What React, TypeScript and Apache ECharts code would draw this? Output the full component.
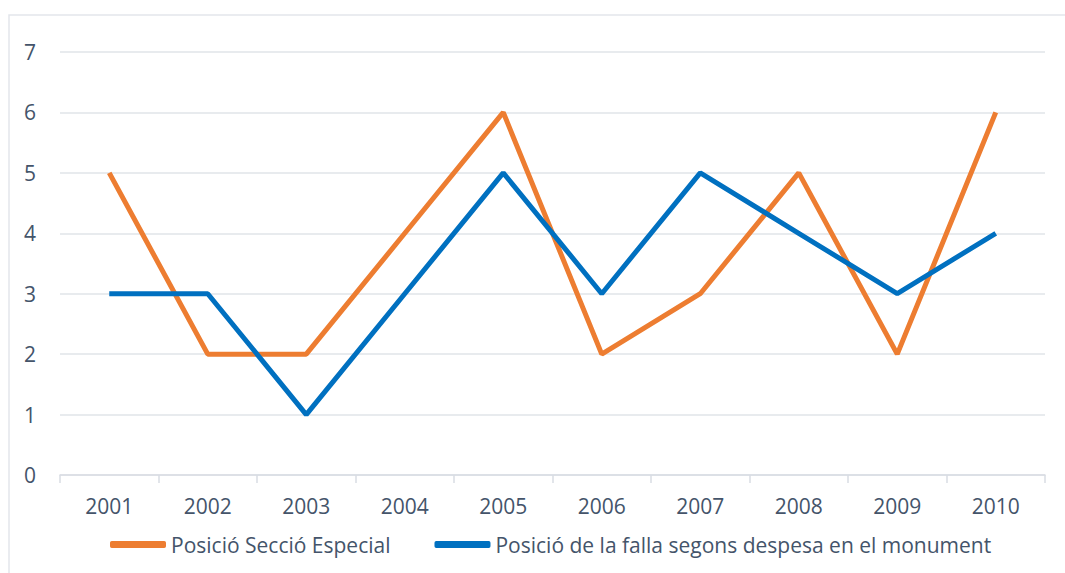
import React, { useEffect, useRef } from "react";
import * as echarts from "echarts";

const years = ["2001", "2002", "2003", "2004", "2005", "2006", "2007", "2008", "2009", "2010"];
const seccioEspecial = [5, 2, 2, 4, 6, 2, 3, 5, 2, 6];
const despesaMonument = [3, 3, 1, 3, 5, 3, 5, 4, 3, 4];
const seriesNames = ["Posició Secció Especial", "Posició de la falla segons despesa en el monument"];

const textColor = "#44546A";
const font = "'Open Sans', sans-serif";

export default function App() {
  const ref = useRef<HTMLDivElement>(null);
  useEffect(() => {
    if (!ref.current) return;
    const chart = echarts.init(ref.current, undefined, { renderer: "svg" });
    chart.setOption({
      animation: false,
      backgroundColor: "#ffffff",
      graphic: [
        {
          type: "rect",
          shape: { x: 9, y: 15, width: 1200, height: 700 },
          style: { fill: "none", stroke: "#E3E6EB", lineWidth: 1.5 },
          silent: true,
          z: -1,
        },
      ],
      grid: { left: 60, right: 20, top: 52, bottom: 98, containLabel: false },
      xAxis: {
        type: "category",
        data: years,
        boundaryGap: true,
        axisLine: { lineStyle: { color: "#D9DDE3", width: 1.5 } },
        axisTick: { show: true, length: 8, lineStyle: { color: "#D9DDE3", width: 1.5 } },
        axisLabel: { color: textColor, fontSize: 21, fontFamily: font, margin: 20 },
      },
      yAxis: {
        type: "value",
        min: 0,
        max: 7,
        interval: 1,
        axisLine: { show: false },
        axisTick: { show: false },
        axisLabel: { color: textColor, fontSize: 21, fontFamily: font, margin: 24 },
        splitLine: { lineStyle: { color: "#E1E4E9", width: 1.5 } },
      },
      legend: {
        left: 110,
        top: 534,
        padding: 0,
        itemGap: 44,
        itemWidth: 56,
        itemHeight: 7,
        icon: "roundRect",
        textStyle: { color: textColor, fontSize: 21, fontFamily: font },
        data: seriesNames,
      },
      series: [
        {
          name: seriesNames[0],
          type: "line",
          data: seccioEspecial,
          symbol: "none",
          color: "#ED7D31",
          lineStyle: { width: 5, color: "#ED7D31" },
        },
        {
          name: seriesNames[1],
          type: "line",
          data: despesaMonument,
          symbol: "none",
          color: "#0070C0",
          lineStyle: { width: 5, color: "#0070C0" },
        },
      ],
    });
    return () => chart.dispose();
  }, []);
  return (
    <div
      ref={ref}
      style={{ position: "fixed", left: 0, top: 0, width: 1065, height: 573 }}
    />
  );
}
